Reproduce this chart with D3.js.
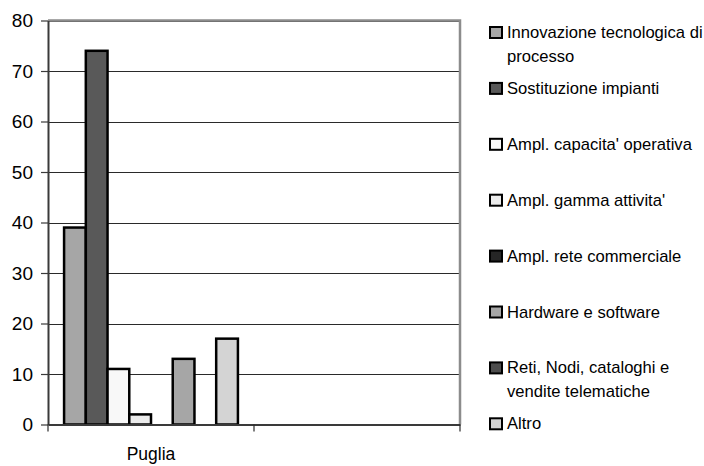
<!DOCTYPE html>
<html>
<head>
<meta charset="utf-8">
<script src="https://cdn.jsdelivr.net/npm/d3@7"></script>
<style>
  html, body { margin: 0; padding: 0; background: #fff; }
  svg { display: block; font-family: "Liberation Sans", Arial, sans-serif; }
</style>
</head>
<body>
<svg id="chart" width="704" height="466"></svg>
<script>
// Regions on the x axis (the second slot is left empty)
const categories = ["Puglia", ""];

// Investment types, in legend order
const seriesNames = [
  "Innovazione tecnologica di processo",
  "Sostituzione impianti",
  "Ampl. capacita' operativa",
  "Ampl. gamma attivita'",
  "Ampl. rete commerciale",
  "Hardware e software",
  "Reti, Nodi, cataloghi e vendite telematiche",
  "Altro"
];

// Legend labels broken into lines
const legendLines = [
  ["Innovazione tecnologica di", "processo"],
  ["Sostituzione impianti"],
  ["Ampl. capacita' operativa"],
  ["Ampl. gamma attivita'"],
  ["Ampl. rete commerciale"],
  ["Hardware e software"],
  ["Reti, Nodi, cataloghi e", "vendite telematiche"],
  ["Altro"]
];

// Values per series for Puglia (percent)
const pugliaValues = [39, 74, 11, 2, 0, 13, 0, 17];

const seriesColors = ["#a6a6a6", "#595959", "#f8f8f8", "#ececec", "#262626", "#a6a6a6", "#4d4d4d", "#d4d4d4"];

const yTicks = [0, 10, 20, 30, 40, 50, 60, 70, 80];

const svg = d3.select("#chart");

const plot = { left: 48, right: 460, top: 20.5, bottom: 424.5 };

const x = d3.scaleBand().domain(categories).range([plot.left, plot.right]).padding(0);
const xInner = d3.scaleBand().domain(d3.range(seriesNames.length))
  .range([0, x.bandwidth()]).paddingInner(0).paddingOuter(0.74);
const y = d3.scaleLinear().domain([0, 80]).range([plot.bottom, plot.top]);

// Horizontal gridlines
svg.append("g")
  .selectAll("line")
  .data(yTicks.filter(d => d > 0))
  .join("line")
  .attr("x1", plot.left).attr("x2", plot.right)
  .attr("y1", d => Math.round(y(d)) + 0.5).attr("y2", d => Math.round(y(d)) + 0.5)
  .attr("stroke", "#2a2a2a").attr("stroke-width", 1);

// Plot frame (top and right)
svg.append("path")
  .attr("d", `M${plot.left},${plot.top}H${plot.right}V${plot.bottom}`)
  .attr("fill", "none").attr("stroke", "#8c8c8c").attr("stroke-width", 2.5);

// Bars
const rows = categories.map((c, i) => ({
  cat: c,
  values: i === 0 ? pugliaValues : seriesNames.map(() => null)
}));

svg.append("g")
  .selectAll("g")
  .data(rows)
  .join("g")
  .attr("transform", d => `translate(${x(d.cat)},0)`)
  .selectAll("rect")
  .data(d => d.values.map((v, i) => ({ v, i })).filter(e => e.v))
  .join("rect")
  .attr("x", d => xInner(d.i))
  .attr("width", xInner.bandwidth())
  .attr("y", d => y(d.v))
  .attr("height", d => y(0) - y(d.v))
  .attr("fill", d => seriesColors[d.i])
  .attr("stroke", "#000").attr("stroke-width", 2.5);

// Y axis
const yAxis = d3.axisLeft(y).tickValues(yTicks).tickSize(7).tickPadding(8).tickSizeOuter(0);
const gy = svg.append("g").attr("transform", `translate(${plot.left},0)`).call(yAxis);
gy.select(".domain").attr("stroke", "#3a3a3a").attr("stroke-width", 2);
gy.selectAll(".tick line").attr("stroke", "#3a3a3a").attr("stroke-width", 1.2);
gy.selectAll(".tick text").attr("font-size", 19).attr("fill", "#000")
  .attr("font-family", "'Liberation Sans', Arial, sans-serif");

// X axis: ticks at category boundaries
const xAxis = d3.axisBottom(x).tickSize(0).tickPadding(23).tickSizeOuter(0);
const gx = svg.append("g").attr("transform", `translate(0,${plot.bottom})`).call(xAxis);
gx.select(".domain").attr("stroke", "#3a3a3a").attr("stroke-width", 2);
gx.selectAll(".tick text").attr("font-size", 17.5).attr("fill", "#000")
  .attr("font-family", "'Liberation Sans', Arial, sans-serif");
gx.selectAll(".boundary")
  .data([plot.left, ...categories.map(c => x(c) + x.bandwidth())])
  .join("line")
  .attr("class", "boundary")
  .attr("x1", d => d).attr("x2", d => d)
  .attr("y1", 0).attr("y2", 7)
  .attr("stroke", "#2a2a2a").attr("stroke-width", 1.2);

// Legend
const legend = svg.append("g").attr("transform", "translate(490,27)");
const item = legend.selectAll("g")
  .data(seriesNames)
  .join("g")
  .attr("transform", (d, i) => `translate(0,${i * 55.9})`);
item.append("rect")
  .attr("x", 0).attr("y", 0).attr("width", 12).attr("height", 11)
  .attr("fill", (d, i) => seriesColors[i])
  .attr("stroke", "#000").attr("stroke-width", 2);
item.append("text")
  .attr("x", 17).attr("y", 11)
  .attr("font-size", 16.6).attr("fill", "#000")
  .selectAll("tspan")
  .data((d, i) => legendLines[i])
  .join("tspan")
  .attr("x", 17)
  .attr("dy", (d, j) => j === 0 ? 0 : 23.5)
  .text(d => d);
</script>
</body>
</html>
